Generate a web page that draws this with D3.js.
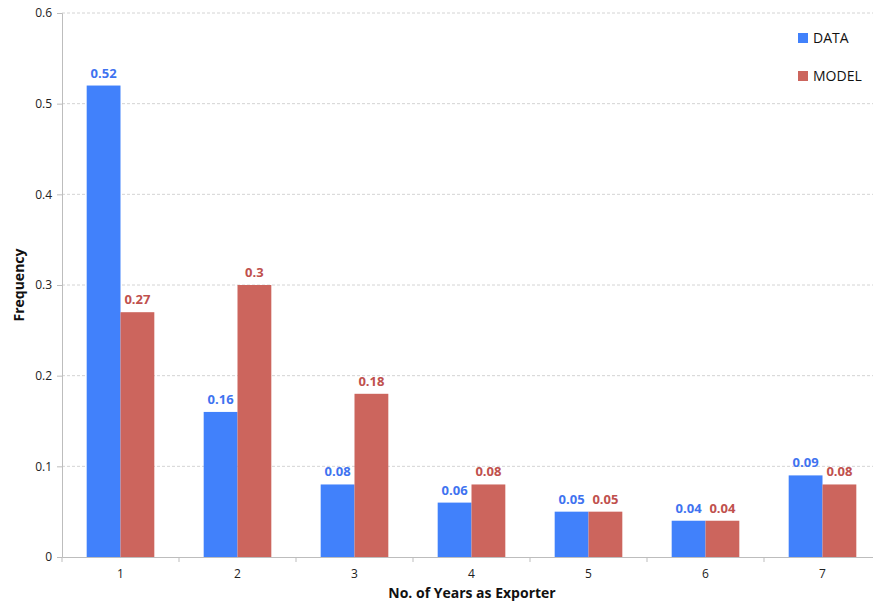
<!DOCTYPE html>
<html><head><meta charset="utf-8">
<script src="https://cdn.jsdelivr.net/npm/d3@7"></script>
<style>body{margin:0;background:#fff;} svg{display:block;} text{font-family:"Open Sans","DejaVu Sans",sans-serif;}</style>
</head><body>
<svg id="c" width="873" height="605"></svg>
<script>
const categories = ["1","2","3","4","5","6","7"];
const dataValues = [0.52,0.16,0.08,0.06,0.05,0.04,0.09];
const modelValues = [0.27,0.3,0.18,0.08,0.05,0.04,0.08];
const yTicks = [0,0.1,0.2,0.3,0.4,0.5,0.6];
const seriesNames = ["DATA","MODEL"];
const colors = ["#4181fb","#cc655d"];
const labelColors = ["#3f73f0","#c0504d"];

(function(){
const svg = d3.select("#c");
const mLeft = 62, mRight = 881, mTop = 13, mBottom = 557;
const x = d3.scaleBand().domain(categories).range([mLeft, mRight]).paddingInner(0).paddingOuter(0);
const x1 = d3.scaleBand().domain(seriesNames).range([0, x.bandwidth()]).paddingInner(0).paddingOuter(0.73);
const y = d3.scaleLinear().domain([0,0.6]).range([mBottom, mTop]);

svg.append("g").selectAll("line").data(yTicks.filter(d=>d>0)).join("line")
  .attr("x1", mLeft).attr("x2", 873).attr("y1", d=>y(d)).attr("y2", d=>y(d))
  .attr("stroke","#d4d4d4").attr("stroke-dasharray","3,2").attr("stroke-width",1);

const yAxis = d3.axisLeft(y).tickValues(yTicks).tickSize(5).tickFormat(d=>d===0?"0":d3.format(".1f")(d));
const yg = svg.append("g").attr("transform",`translate(${mLeft},0)`).call(yAxis);
yg.select(".domain").attr("stroke","#bdbdbd");
yg.selectAll(".tick line").attr("stroke","#bdbdbd");
yg.selectAll(".tick text").attr("font-size",12).attr("fill","#222").attr("x",-10);

const series = [dataValues, modelValues];
series.forEach((vals, si) => {
  const g = svg.append("g");
  g.selectAll("rect").data(vals).join("rect")
    .attr("x",(d,i)=>x(categories[i])+x1(seriesNames[si]))
    .attr("width",x1.bandwidth())
    .attr("y",d=>y(d)).attr("height",d=>mBottom-y(d))
    .attr("fill",colors[si]);
  g.selectAll("text").data(vals).join("text")
    .attr("x",(d,i)=>x(categories[i])+x1(seriesNames[si])+x1.bandwidth()/2)
    .attr("y",d=>y(d)-8)
    .attr("text-anchor","middle").attr("font-size",13).attr("font-weight","bold")
    .attr("fill",labelColors[si]).text(d=>String(d));
});

const xAxis = d3.axisBottom(x).tickSize(0).tickSizeOuter(0);
const xg = svg.append("g").attr("transform",`translate(0,${mBottom})`).call(xAxis);
xg.select(".domain").attr("stroke","#bdbdbd");
xg.selectAll(".tick text").attr("font-size",12).attr("fill","#222").attr("dy","1.5em");
xg.selectAll(".sep").data(categories).join("line").attr("class","sep")
  .attr("x1",d=>x(d)+x.bandwidth()).attr("x2",d=>x(d)+x.bandwidth())
  .attr("y1",0).attr("y2",5).attr("stroke","#bdbdbd");
xg.append("line").attr("x1",mLeft).attr("x2",mLeft).attr("y1",0).attr("y2",5).attr("stroke","#bdbdbd");

svg.append("text").attr("x",472).attr("y",598).attr("text-anchor","middle")
  .attr("font-size",14).attr("font-weight","bold").attr("fill","#111").text("No. of Years as Exporter");
svg.append("text").attr("transform","translate(24,285) rotate(-90)").attr("text-anchor","middle")
  .attr("font-size",14).attr("font-weight","bold").attr("fill","#111").text("Frequency");

const leg = svg.append("g");
seriesNames.forEach((n,i)=>{
  const yy = 33 + i*38;
  leg.append("rect").attr("x",798).attr("y",yy).attr("width",10).attr("height",10).attr("fill",colors[i]);
  leg.append("text").attr("x",813).attr("y",yy+10).attr("font-size",14).attr("fill","#111").text(n);
});
})();
</script>
</body></html>
